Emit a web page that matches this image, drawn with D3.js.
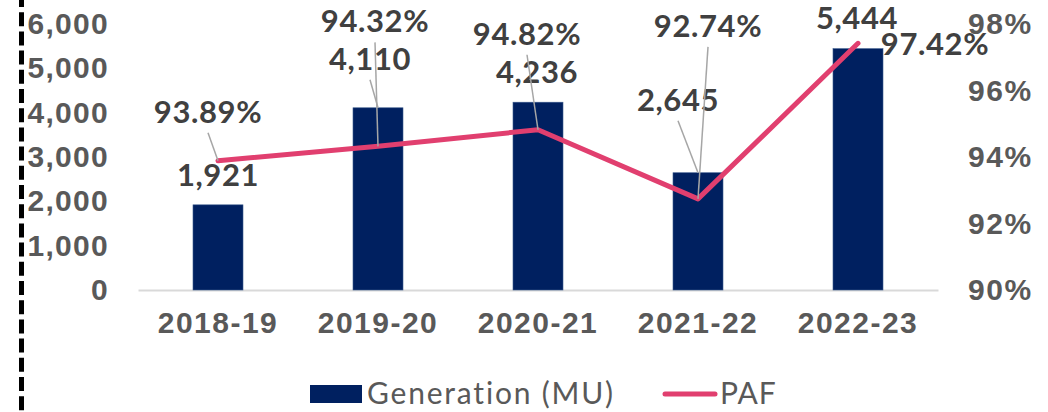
<!DOCTYPE html>
<html>
<head>
<meta charset="utf-8">
<script src="https://cdn.jsdelivr.net/npm/d3@7"></script>
<style>
  body { margin: 0; background: #fff; }
  svg { display: block; font-family: Lato, 'Noto Sans', sans-serif; }
</style>
</head>
<body>
<svg width="1048" height="412"></svg>
<script>
const years = ['2018-19', '2019-20', '2020-21', '2021-22', '2022-23'];
const generation = [1921, 4110, 4236, 2645, 5444];
const paf = [93.89, 94.32, 94.82, 92.74, 97.42];
const leftTicks = [0, 1000, 2000, 3000, 4000, 5000, 6000];
const rightTicks = [90, 92, 94, 96, 98];

// label placement (offset of label centre/baseline from its mark, in px)
const genLabelPos = [[0, -19], [-8, -38], [-1, -19], [-20, -62], [-1, -20]];
const pafLabelPos = [[-10, -38], [-3, -114], [-11, -85], [10, -162], [77, 12]];
const genLeader = [false, true, false, true, false];
const pafLeader = [true, true, true, true, false];

const svg = d3.select('svg');
const width = +svg.attr('width');
const height = +svg.attr('height');

const margin = { top: 24, right: 110, bottom: 122, left: 138 };
const innerWidth = width - margin.left - margin.right;
const innerHeight = height - margin.top - margin.bottom;

const xScale = d3.scaleBand()
    .domain(years)
    .range([0, innerWidth])
    .paddingInner(0.6875)
    .paddingOuter(0.34375);

const yLeft = d3.scaleLinear()
    .domain([0, 6000])
    .range([innerHeight, 0]);

const yRight = d3.scaleLinear()
    .domain([90, 98])
    .range([innerHeight, 0]);

// dashed border at the left
svg.append('line')
    .attr('x1', 21.5).attr('x2', 21.5)
    .attr('y1', 0).attr('y2', height)
    .attr('stroke', '#000')
    .attr('stroke-width', 5)
    .attr('stroke-dasharray', '14,5.2')
    .attr('stroke-dashoffset', 7);

const g = svg.append('g')
    .attr('transform', `translate(${margin.left}, ${margin.top})`);

const styleTicks = (sel, size, spacing) => sel
    .attr('fill', '#595959')
    .style('font-size', size)
    .style('font-weight', 'bold')
    .style('letter-spacing', spacing);

// left axis
const leftAxis = g.append('g')
    .call(d3.axisLeft(yLeft).tickValues(leftTicks).tickFormat(d3.format(',')).tickSize(0).tickPadding(29));
leftAxis.select('.domain').remove();
styleTicks(leftAxis.selectAll('text'), '30px', '1.3px');

// right axis
const rightAxis = g.append('g')
    .attr('transform', `translate(${innerWidth}, 0)`)
    .call(d3.axisRight(yRight).tickValues(rightTicks).tickFormat(d => d + '%').tickSize(0).tickPadding(30));
rightAxis.select('.domain').remove();
styleTicks(rightAxis.selectAll('text'), '30px', '1.6px');

// bottom axis
const xAxis = g.append('g')
    .attr('transform', `translate(0, ${innerHeight})`)
    .call(d3.axisBottom(xScale).tickSize(0).tickPadding(22));
xAxis.select('.domain')
    .attr('stroke', '#d9d9d9')
    .attr('stroke-width', 2);
styleTicks(xAxis.selectAll('text'), '30px', '1.5px');

// bars
g.selectAll('.bar')
    .data(generation)
    .join('rect')
    .attr('class', 'bar')
    .attr('x', (d, i) => xScale(years[i]))
    .attr('y', d => yLeft(d))
    .attr('width', xScale.bandwidth())
    .attr('height', d => innerHeight - yLeft(d))
    .attr('fill', '#002060')
    .attr('stroke', '#3a5a8c')
    .attr('stroke-width', 0.6);

// PAF line
const cx = i => xScale(years[i]) + xScale.bandwidth() / 2;
const line = d3.line()
    .x((d, i) => cx(i))
    .y(d => yRight(d));

g.append('path')
    .datum(paf)
    .attr('d', line)
    .attr('fill', 'none')
    .attr('stroke', '#e13f6f')
    .attr('stroke-width', 5)
    .attr('stroke-linecap', 'round')
    .attr('stroke-linejoin', 'round');

// data labels
const addLabels = (values, pos, leader, yScale, fmt) => {
    values.forEach((v, i) => {
        const px = cx(i);
        const py = yScale(v);
        const lx = px + pos[i][0];
        const ly = py + pos[i][1];
        if (leader[i]) {
            g.append('line')
                .attr('x1', lx).attr('y1', ly + 10)
                .attr('x2', px).attr('y2', py)
                .attr('stroke', '#a6a6a6')
                .attr('stroke-width', 1.5);
        }
        g.append('text')
            .attr('x', lx)
            .attr('y', ly)
            .attr('text-anchor', 'middle')
            .attr('fill', '#404040')
            .style('font-size', '31px')
            .style('font-weight', 'bold')
            .style('letter-spacing', '0.6px')
            .text(fmt(v));
    });
};

addLabels(generation, genLabelPos, genLeader, yLeft, d3.format(','));
addLabels(paf, pafLabelPos, pafLeader, yRight, d => d.toFixed(2) + '%');

// legend
const legend = svg.append('g')
    .attr('transform', 'translate(310, 394)');

legend.append('rect')
    .attr('x', 0).attr('y', -9)
    .attr('width', 52).attr('height', 18)
    .attr('fill', '#002060');

legend.append('text')
    .attr('x', 57).attr('y', 10)
    .attr('fill', '#595959')
    .style('font-size', '30px')
    .style('letter-spacing', '1.8px')
    .text('Generation (MU)');

legend.append('line')
    .attr('x1', 355).attr('x2', 405)
    .attr('y1', 0).attr('y2', 0)
    .attr('stroke', '#e13f6f')
    .attr('stroke-width', 5)
    .attr('stroke-linecap', 'round');

legend.append('text')
    .attr('x', 410).attr('y', 10)
    .attr('fill', '#595959')
    .style('font-size', '30px')
    .style('letter-spacing', '1px')
    .text('PAF');
</script>
</body>
</html>
